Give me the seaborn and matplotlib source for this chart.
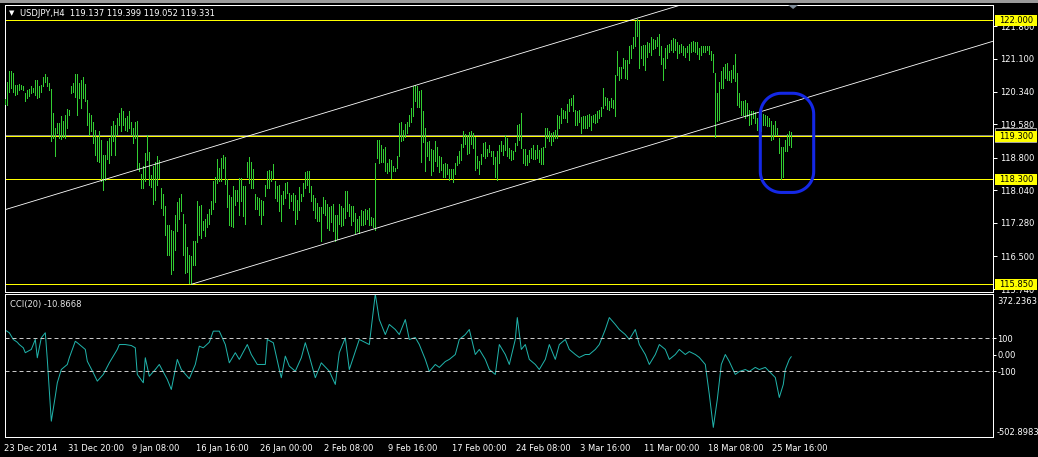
import numpy as np
import pandas as pd
import matplotlib
matplotlib.use("Agg")
import matplotlib.pyplot as plt
import matplotlib.transforms as mtrans
from matplotlib.patches import Rectangle, Polygon
import seaborn as sns

# ── Data (USDJPY H4, one entry per bar) ─────────────────────────────────────
high = [
    120.17, 120.57, 120.82, 120.82, 120.77, 120.50, 120.50, 120.51, 120.50, 120.48,
    120.30, 120.38, 120.40, 120.46, 120.43, 120.61, 120.61, 120.46, 120.50, 120.69,
    120.74, 120.69, 120.53, 120.40, 119.84, 119.49, 119.60, 119.60, 119.76, 119.66,
    119.80, 119.94, 119.91, 120.48, 120.53, 120.74, 120.74, 120.53, 120.61, 120.67,
    120.51, 120.15, 119.84, 119.80, 119.64, 119.45, 119.29, 119.41, 119.22, 118.87,
    118.87, 119.18, 119.26, 119.53, 119.66, 119.57, 119.72, 119.84, 119.95, 119.88,
    119.72, 119.76, 119.88, 119.64, 119.49, 119.64, 119.66, 118.67, 118.42, 118.60,
    118.91, 119.33, 118.93, 118.39, 118.60, 118.71, 118.85, 118.75, 118.09, 117.96,
    117.67, 117.24, 117.24, 117.12, 117.10, 117.46, 117.77, 117.86, 117.95, 117.49,
    117.26, 116.71, 116.54, 116.50, 116.85, 116.85, 117.78, 117.67, 117.69, 117.32,
    117.38, 117.49, 117.61, 117.80, 118.25, 118.36, 118.77, 118.56, 118.79, 118.87,
    118.81, 118.31, 117.92, 117.88, 118.15, 118.05, 118.05, 118.33, 118.33, 118.13,
    118.15, 118.70, 118.81, 118.71, 118.54, 117.95, 117.88, 117.86, 117.82, 117.78,
    118.17, 118.48, 118.52, 118.50, 118.65, 118.25, 118.15, 118.17, 117.94, 118.02,
    118.21, 118.23, 117.98, 117.92, 117.98, 117.94, 117.82, 118.11, 117.95, 118.21,
    118.47, 118.50, 118.48, 118.13, 117.94, 117.86, 117.74, 117.64, 117.64, 117.88,
    117.82, 117.71, 117.64, 117.67, 117.71, 117.47, 117.47, 117.72, 117.67, 117.63,
    118.02, 118.02, 117.72, 117.67, 117.68, 117.51, 117.36, 117.43, 117.57, 117.55,
    117.60, 117.59, 117.63, 117.41, 117.40, 118.68, 119.22, 119.22, 119.10, 119.01,
    119.04, 118.67, 118.77, 118.75, 118.60, 118.57, 118.85, 119.60, 119.63, 119.45,
    119.58, 119.64, 119.80, 119.95, 120.46, 120.50, 120.48, 120.36, 120.38, 119.89,
    119.49, 119.16, 119.18, 119.01, 118.98, 119.19, 119.06, 118.83, 118.81, 118.65,
    118.67, 118.65, 118.54, 118.54, 118.54, 118.67, 118.83, 118.95, 119.12, 119.41,
    119.35, 119.32, 119.40, 119.43, 119.37, 119.29, 118.83, 118.73, 118.88, 119.14,
    119.16, 119.01, 119.10, 118.95, 118.95, 118.81, 118.95, 119.10, 119.18, 119.10,
    119.33, 119.26, 119.02, 118.98, 118.96, 119.14, 119.57, 119.58, 119.84, 119.01,
    119.01, 118.87, 118.98, 119.02, 119.09, 118.98, 119.09, 118.98, 119.02, 119.04,
    119.49, 119.50, 119.43, 119.37, 119.40, 119.45, 119.80, 119.76, 119.95, 119.91,
    119.89, 120.05, 120.17, 120.19, 120.26, 119.91, 119.88, 119.91, 119.75, 119.76,
    119.76, 119.80, 119.81, 119.76, 119.80, 119.81, 119.88, 119.91, 119.99, 120.42,
    120.22, 120.20, 120.12, 120.19, 120.15, 120.73, 121.29, 120.92, 120.92, 121.13,
    121.08, 121.08, 121.39, 121.43, 121.60, 121.98, 122.02, 121.99, 121.39, 121.43,
    121.43, 121.50, 121.47, 121.62, 121.57, 121.54, 121.60, 121.67, 121.39, 121.12,
    121.36, 121.43, 121.44, 121.54, 121.58, 121.57, 121.50, 121.43, 121.44, 121.41,
    121.36, 121.41, 121.44, 121.50, 121.52, 121.50, 121.50, 121.35, 121.39, 121.40,
    121.39, 121.39, 121.39, 121.29, 121.21, 120.77, 120.30, 120.57, 120.82, 120.92,
    120.98, 121.00, 120.82, 120.85, 120.96, 121.21, 120.77, 120.30, 120.12, 120.12,
    120.15, 120.07, 119.91, 119.88, 119.88, 119.86, 119.72, 119.68, 119.88, 119.81,
    119.80, 119.76, 119.72, 119.66, 119.55, 119.66, 119.49, 119.26, 119.06, 119.04,
    119.22, 119.35, 119.41, 119.40,
]
low = [
    120.05, 120.03, 120.33, 120.43, 120.34, 120.26, 120.28, 120.38, 120.40, 120.38,
    120.12, 120.19, 120.24, 120.30, 120.32, 120.26, 120.19, 120.22, 120.34, 120.46,
    120.57, 120.46, 120.38, 119.18, 119.26, 118.85, 119.37, 119.26, 119.24, 119.29,
    119.26, 119.49, 119.80, 120.30, 120.34, 120.22, 119.80, 120.19, 119.95, 120.19,
    120.12, 119.57, 119.33, 119.41, 119.14, 118.87, 118.73, 118.71, 118.26, 118.05,
    118.29, 118.77, 118.67, 118.87, 119.18, 118.87, 119.35, 119.57, 119.41, 119.57,
    119.45, 119.41, 119.49, 119.33, 119.14, 119.26, 118.56, 118.48, 118.09, 118.09,
    118.25, 118.75, 118.17, 118.11, 117.71, 117.82, 118.17, 118.33, 117.63, 117.47,
    116.99, 116.54, 116.53, 116.08, 116.19, 116.66, 117.09, 117.36, 117.55, 116.54,
    116.12, 116.14, 115.88, 115.85, 116.31, 116.31, 116.84, 117.01, 116.93, 117.12,
    116.97, 117.18, 117.26, 117.49, 117.61, 117.77, 118.21, 118.25, 118.25, 118.57,
    118.19, 117.64, 117.24, 117.20, 117.18, 117.69, 117.78, 117.46, 117.78, 117.43,
    117.26, 118.34, 118.21, 118.09, 118.09, 117.61, 117.61, 117.47, 117.26, 117.47,
    117.90, 118.09, 118.09, 118.26, 118.33, 117.86, 117.78, 117.55, 117.32, 117.71,
    117.86, 117.98, 117.63, 117.78, 117.59, 117.26, 117.38, 117.59, 117.78, 117.90,
    118.09, 118.17, 118.00, 117.80, 117.59, 117.40, 117.32, 117.32, 116.87, 117.51,
    117.47, 117.16, 117.12, 117.30, 117.10, 116.87, 116.91, 117.26, 117.20, 117.24,
    117.40, 117.55, 117.43, 117.24, 117.32, 117.05, 117.09, 117.05, 117.24, 117.24,
    117.26, 117.38, 117.24, 117.24, 117.18, 117.12, 118.79, 118.67, 118.71, 118.71,
    118.48, 118.44, 118.48, 118.33, 118.48, 118.50, 118.57, 118.83, 119.19, 119.22,
    119.27, 119.37, 119.53, 119.64, 119.76, 120.12, 119.99, 119.97, 118.71, 119.16,
    118.50, 118.83, 118.75, 118.39, 118.48, 118.73, 118.60, 118.47, 118.52, 118.36,
    118.34, 118.42, 118.29, 118.33, 118.23, 118.42, 118.64, 118.67, 118.75, 119.06,
    119.12, 118.88, 118.91, 119.12, 119.02, 118.52, 118.56, 118.42, 118.65, 118.83,
    118.79, 118.85, 118.93, 118.85, 118.65, 118.34, 118.29, 118.67, 118.95, 118.87,
    118.98, 118.83, 118.79, 118.75, 118.77, 118.95, 119.10, 119.22, 119.02, 118.67,
    118.62, 118.62, 118.71, 118.79, 118.77, 118.77, 118.79, 118.71, 118.65, 118.65,
    119.04, 119.26, 119.19, 119.10, 119.18, 119.26, 119.26, 119.49, 119.60, 119.72,
    119.72, 119.64, 119.88, 120.03, 119.88, 119.57, 119.55, 119.64, 119.37, 119.49,
    119.49, 119.49, 119.53, 119.45, 119.64, 119.60, 119.63, 119.72, 119.76, 119.95,
    120.03, 119.94, 119.91, 119.99, 119.95, 119.76, 120.73, 120.61, 120.65, 120.88,
    120.65, 120.64, 121.00, 121.12, 121.35, 121.39, 121.64, 120.90, 121.12, 120.96,
    120.85, 121.15, 121.27, 121.19, 121.33, 121.35, 121.39, 121.19, 120.98, 120.61,
    120.88, 121.12, 121.27, 121.31, 121.27, 121.31, 121.13, 121.23, 121.27, 121.19,
    121.15, 121.26, 121.08, 121.27, 121.29, 121.26, 121.21, 121.10, 121.18, 121.27,
    121.27, 121.31, 121.21, 121.08, 120.79, 119.29, 119.66, 119.68, 120.43, 120.43,
    120.65, 120.61, 120.61, 120.57, 120.65, 120.59, 120.03, 119.99, 119.80, 119.80,
    119.72, 119.76, 119.57, 119.58, 119.72, 119.60, 119.45, 119.19, 119.43, 119.57,
    119.57, 119.53, 119.53, 119.22, 119.24, 119.33, 119.33, 118.91, 118.30, 118.34,
    118.95, 118.96, 119.10, 119.05,
]

# CCI(20) readings: bar number -> value
cci_bar = [0, 2, 4, 6, 7, 9, 10, 13, 15, 16, 18, 20, 21, 22, 23, 25, 26, 28, 31, 32,
           35, 36, 40, 41, 44, 46, 49, 52, 56, 57, 60, 63, 65, 66, 69, 70, 72, 75, 77, 81,
           83, 86, 88, 92, 95, 97, 99, 102, 104, 107, 110, 112, 115, 117, 121, 123, 126, 130, 131, 134,
           137, 138, 140, 142, 145, 148, 150, 152, 155, 158, 162, 165, 167, 170, 172, 177, 182, 185, 187, 190,
           192, 195, 197, 200, 202, 205, 207, 210, 212, 215, 217, 220, 222, 225, 227, 230, 232, 235, 237, 240,
           242, 245, 247, 250, 252, 255, 256, 258, 260, 262, 265, 267, 270, 272, 275, 277, 280, 282, 285, 287,
           290, 292, 295, 297, 300, 302, 305, 307, 310, 312, 315, 317, 320, 322, 325, 327, 330, 332, 335, 337,
           340, 342, 345, 347, 350, 352, 354, 356, 358, 360, 362, 365, 367, 370, 372, 375, 377, 380, 382, 385,
           387, 389, 390, 392, 393]
cci_val = [151, 135, 94, 77, 63, 43, 13, 33, 94, -18, 104, 135, -28, -212, -406, -253, -171, -90, -59, -18,
           83, 74, 33, -39, -110, -161, -120, -49, 33, 63, 63, 57, 43, -120, -171, -18, -131, -90, -59, -151,
           -212, -28, -90, -146, -59, 53, 43, 77, 145, 145, 63, -49, 13, -28, 63, 2, -59, -59, 94, 74,
           -90, -140, -8, -69, -100, -18, 74, -8, -140, -49, -100, -181, 13, 104, -90, 94, 63, 372, 216, 124,
           186, 155, 124, 216, 94, 106, 63, -28, -102, -59, -77, -41, -28, 2, 94, 124, 155, 2, 33, -28,
           -90, -120, 63, 2, -59, 94, 228, 33, 63, -28, -59, -90, -28, 63, -28, 63, 94, 33, 2, -16,
           2, 2, 33, 63, 155, 228, 186, 155, 124, 94, 155, 63, 2, -59, 2, 63, 33, -28, 2, 33,
           2, 20, 2, -16, -59, -242, -444, -273, -59, 2, -41, -120, -102, -90, -102, -77, -90, -77, -102, -139,
           -261, -181, -90, -28, -10.8668]

date_labels = ["23 Dec 2014", "31 Dec 20:00", "9 Jan 08:00", "16 Jan 16:00", "26 Jan 00:00",
               "2 Feb 08:00", "9 Feb 16:00", "17 Feb 00:00", "24 Feb 08:00", "3 Mar 16:00",
               "11 Mar 00:00", "18 Mar 08:00", "25 Mar 16:00"]
date_bars = [0, 32, 64, 96, 128, 160, 192, 224, 256, 288, 320, 352, 384]

price_ticks = [121.860, 121.100, 120.340, 119.580, 118.800, 118.040, 117.280, 116.500, 115.740]
level_lines = [122.000, 119.300, 118.300, 115.850]
bid_price = 119.331
last_ohlc = "119.137 119.399 119.052 119.331"
cci_last = -10.8668
cci_low, cci_high = -502.8983, 372.2363

upper_trend = [(0, 117.59), (316, 122.05)]
lower_trend = [(93, 115.85), (493, 121.50)]
circle_zone = (377.5, 404.2, 117.99, 120.30)   # bar from, bar to, price low, price high

assert len(high) == len(low) == 394
assert len(cci_bar) == len(cci_val)

# ── Style ───────────────────────────────────────────────────────────────────
sns.set_style("dark", {"axes.facecolor": "black", "figure.facecolor": "black",
                       "axes.edgecolor": "white", "grid.color": "black"})
plt.rcParams['font.family'] = ['DejaVu Sans']

W, H = 1038, 457
PX = 0.72  # 1 px in points at 100 dpi
fig = plt.figure(figsize=(W / 100, H / 100), dpi=100, facecolor="black")
ax = fig.add_axes([5 / W, 1 - 292 / H, 988 / W, 287 / H])
ax2 = fig.add_axes([5 / W, 1 - 437 / H, 988 / W, 143 / H])

bars = np.arange(len(high))
XLIM = (-0.15, 493.85)

# ── Price panel ─────────────────────────────────────────────────────────────
ax.vlines(bars, low, high, colors="#32CD32", linewidth=PX, antialiased=False, zorder=3)
ax.set_xlim(*XLIM)
ax.set_ylim(115.671, 122.356)

for lvl in level_lines:
    ax.axhline(lvl, color="#FFFF00", lw=PX, zorder=2)
ax.axhline(bid_price, color="#808080", lw=PX, zorder=2)

# trend channel
for (x0, y0), (x1, y1) in [upper_trend, lower_trend]:
    slope = (y1 - y0) / (x1 - x0)
    xs = np.array([x0 if x0 > 50 else -5, 500])
    ax.plot(xs, y0 + slope * (xs - x0), color="white", lw=0.6, zorder=4)

# blue rounded marker around last bars
bx0, bx1, by0, by1 = circle_zone
rx, ry = 10.5, 21 / 42.93
t = np.linspace(0, np.pi / 2, 20)
pts = np.concatenate([
    np.c_[bx1 - rx + rx * np.cos(t), by1 - ry + ry * np.sin(t)],
    np.c_[bx0 + rx - rx * np.sin(t), by1 - ry + ry * np.cos(t)],
    np.c_[bx0 + rx - rx * np.cos(t), by0 + ry - ry * np.sin(t)],
    np.c_[bx1 - rx + rx * np.sin(t), by0 + ry - ry * np.cos(t)],
])
ax.add_patch(Polygon(pts, closed=True, fill=False, ec="#1428e6", lw=2.2, zorder=5))

ax.set_xticks([])
ax.set_yticks(price_ticks)
ax.set_yticklabels([f"{p:.3f}" for p in price_ticks])
ax.yaxis.tick_right()
ax.tick_params(axis="y", direction="out", length=3, width=PX, pad=2,
               colors="white", labelsize=6)
for s in ax.spines.values():
    s.set_color("white")
    s.set_linewidth(PX)

blend = mtrans.blended_transform_factory(ax.transAxes, ax.transData)
box_h = 11 / 42.93
# bid label mostly hidden behind the 119.300 label
ax.add_patch(Rectangle((990 / 988, bid_price - 7 / 42.93), 41 / 988, 14 / 42.93,
                       transform=blend, clip_on=False, fc="black", ec="#a0a0a0",
                       lw=PX, zorder=6))
for lvl in level_lines:
    ax.add_patch(Rectangle((990 / 988, lvl - box_h / 2), 42 / 988, box_h,
                           transform=blend, clip_on=False, fc="#FFFF00", ec="none", zorder=7))
    ax.text(1011 / 988, lvl, f"{lvl:.3f}", transform=blend, ha="center", va="center",
            fontsize=6, color="black", clip_on=False, zorder=8)

# chart-shift marker
ax.add_patch(Polygon([(391.4, 1.0), (396.4, 1.0), (393.9, 1 - 4 / 287)],
                     closed=True, transform=mtrans.blended_transform_factory(ax.transData, ax.transAxes),
                     fc="#7f8c99", ec="none", clip_on=False, zorder=6))

fig.text(9 / W, 1 - 13 / H, "▼", color="white", fontsize=5, va="center")
fig.text(20 / W, 1 - 13 / H, f"USDJPY,H4  {last_ohlc}", color="white", fontsize=6, va="center")
fig.patches.append(Rectangle((0, 1 - 3 / H), 1, 3 / H, transform=fig.transFigure,
                             fc="#9a9a9a", ec="none"))

# ── CCI panel ───────────────────────────────────────────────────────────────
cci_df = pd.DataFrame({"bar": cci_bar, "cci": cci_val})
sns.lineplot(data=cci_df, x="bar", y="cci", ax=ax2, color="#20B2AA", linewidth=PX)
ax2.set_xlabel("")
ax2.set_ylabel("")
ax2.set_xlim(*XLIM)
ax2.set_ylim(cci_low, cci_high)
for lvl in (100, -100):
    ax2.axhline(lvl, color="#c8c8c8", lw=PX, ls=(0, (4, 3)))

ax2.set_yticks([100, 0, -100])
ax2.set_yticklabels(["100", "0.00", "-100"])
ax2.yaxis.tick_right()
ax2.tick_params(axis="y", direction="out", length=2, width=PX, pad=1,
                colors="white", labelsize=6)
ax2.set_xticks(date_bars)
ax2.set_xticklabels(date_labels, ha="left")
ax2.tick_params(axis="x", direction="out", length=3, width=PX, pad=2,
                colors="white", labelsize=6)
shift = mtrans.ScaledTranslation(-1.5 / 100, 0, fig.dpi_scale_trans)
for lab in ax2.get_xticklabels():
    lab.set_transform(lab.get_transform() + shift)
for s in ax2.spines.values():
    s.set_color("white")
    s.set_linewidth(PX)

blend2 = mtrans.blended_transform_factory(ax2.transAxes, ax2.transData)
ax2.text(1.0040, cci_high - 18, f"{cci_high:.4f}", transform=blend2, ha="left", va="top",
         fontsize=6, color="white", clip_on=False)
ax2.text(1.0040, cci_low, f"{cci_low:.4f}", transform=blend2, ha="left", va="bottom",
         fontsize=6, color="white", clip_on=False)
ax2.text(5 / 988, 0.93, f"CCI(20) {cci_last:.4f}", transform=ax2.transAxes,
         fontsize=6, color="#e6e6e6", va="center")

fig.savefig("out.png", dpi=100, facecolor="black")
